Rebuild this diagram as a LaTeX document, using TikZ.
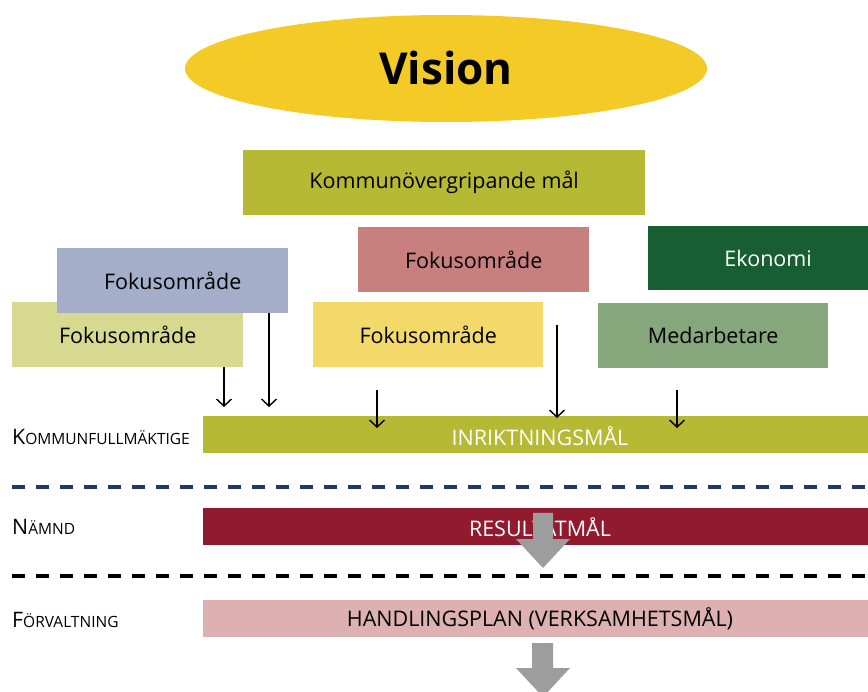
\documentclass[tikz,border=0pt]{standalone}
\usepackage{fontspec}
\setmainfont{Open Sans}
\usetikzlibrary{arrows.meta,shapes.geometric}
\definecolor{visionY}{HTML}{F4CB26}
\definecolor{olive}{HTML}{B5B934}
\definecolor{rose}{HTML}{C8807F}
\definecolor{dgreen}{HTML}{175E32}
\definecolor{bluegray}{HTML}{A4AEC8}
\definecolor{lgreen}{HTML}{D8D990}
\definecolor{lyellow}{HTML}{F3D86A}
\definecolor{sage}{HTML}{86A67C}
\definecolor{wine}{HTML}{921A2F}
\definecolor{lpink}{HTML}{DDB1B2}
\definecolor{arrowgray}{HTML}{9D9D9D}
\definecolor{navy}{HTML}{1F3864}
\tikzset{
  box/.style={rectangle, inner sep=0pt, anchor=north west, font=\fontsize{21.5}{25}\selectfont},
  bar/.style={rectangle, inner sep=0pt, anchor=north west, minimum width=675pt, minimum height=37pt},
  bartext/.style={font=\fontsize{21.5}{24}\selectfont},
  lvl/.style={anchor=west, inner sep=0pt},
  darr/.style={line width=1.4pt, -{Straight Barb[length=7pt,width=15pt,line width=1.4pt]}},
  dline/.style={line width=4pt, dash pattern=on 13pt off 11pt},
  bigarrow/.style={fill=arrowgray, draw=none}
}
\newcommand{\sclab}[2]{{\fontsize{21.3}{23}\selectfont #1}{\fontsize{15.5}{17}\selectfont #2}}
\begin{document}
\begin{tikzpicture}[x=1pt,y=-1pt]
\useasboundingbox (0,0) rectangle (868,692);
% Vision
\node[ellipse, fill=visionY, minimum width=522pt, minimum height=107pt, inner sep=0pt,
  font=\fontsize{44}{48}\selectfont\bfseries] (vision) at (446,68.5) {Vision};
% Boxes
\node[box, fill=olive, minimum width=402pt, minimum height=65pt] (kom) at (243,150) {Kommunövergripande mål};
\node[box, fill=rose, minimum width=231pt, minimum height=65pt] (fok3) at (358,227) {Fokusområde};
\node[box, fill=dgreen, text=white, minimum width=230pt, minimum height=64pt] (eko) at (648,226) {\hspace*{10pt}Ekonomi};
\node[box, fill=lgreen, minimum width=231pt, minimum height=65pt] (fok1) at (12,302) {Fokusområde};
\node[box, fill=bluegray, minimum width=231pt, minimum height=65pt] (fok2) at (57,248) {Fokusområde};
\node[box, fill=lyellow, minimum width=230pt, minimum height=65pt] (fok4) at (313,302) {Fokusområde};
\node[box, fill=sage, minimum width=230pt, minimum height=65pt] (med) at (598,303) {Medarbetare};
% Bars
\node[bar, fill=olive] (inr) at (203,416) {};
\node[bartext, text=white] (inrt) at (540,436) {INRIKTNINGSMÅL};
\node[bar, fill=wine] (res) at (203,508) {};
\node[bartext, text=white] (rest) at (540,527) {RESULTATMÅL};
\node[bar, fill=lpink] (han) at (203,600) {};
\node[bartext] (hant) at (540,619) {HANDLINGSPLAN (VERKSAMHETSMÅL)};
% Level labels
\node[lvl] (lk) at (12,437) {\sclab{K}{OMMUNFULLMÄKTIGE}};
\node[lvl] (ln) at (12,527) {\sclab{N}{ÄMND}};
\node[lvl] (lf) at (12,620) {\sclab{F}{ÖRVALTNING}};
% Dashed lines
\draw[dline, navy] (12,487) -- (868,487);
\draw[dline, black] (12,576) -- (868,576);
% Small arrows
\coordinate (s3) at (377,390);
\coordinate (s4) at (557,325);
\coordinate (s5) at (677,390);
\coordinate (e1) at (224,407);
\coordinate (e2) at (269,407);
\coordinate (e3) at (377,428);
\coordinate (e4) at (557,418);
\coordinate (e5) at (677,428);
\draw[darr] (fok1.south west -| e1) -- (e1);
\draw[darr] (fok2.south west -| e2) -- (e2);
\draw[darr] (s3) -- (e3);
\draw[darr] (s4) -- (e4);
\draw[darr] (s5) -- (e5);
% Big gray arrows
\fill[arrowgray] (533,513) -- (553,513) -- (553,539) -- (570,539) -- (543,568) -- (516,539) -- (533,539) -- cycle;
\fill[arrowgray] (532,643) -- (553,643) -- (553,668) -- (570,668) -- (543,697) -- (516,668) -- (532,668) -- cycle;
\end{tikzpicture}
\end{document}
